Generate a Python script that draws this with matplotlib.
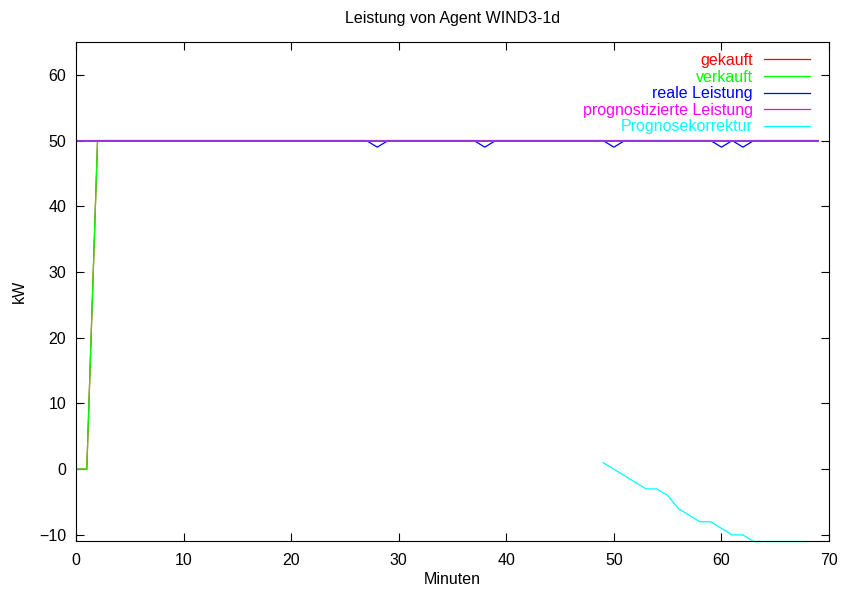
import matplotlib
matplotlib.use('Agg')
import matplotlib.pyplot as plt

plt.rcParams['font.family'] = ['Liberation Sans', 'DejaVu Sans']

# Minuten 0..69
minuten = [0, 1, 2, 3, 4, 5, 6, 7, 8, 9,
           10, 11, 12, 13, 14, 15, 16, 17, 18, 19,
           20, 21, 22, 23, 24, 25, 26, 27, 28, 29,
           30, 31, 32, 33, 34, 35, 36, 37, 38, 39,
           40, 41, 42, 43, 44, 45, 46, 47, 48, 49,
           50, 51, 52, 53, 54, 55, 56, 57, 58, 59,
           60, 61, 62, 63, 64, 65, 66, 67, 68, 69]

gekauft = [0, 0, 50, 50, 50, 50, 50, 50, 50, 50,
           50, 50, 50, 50, 50, 50, 50, 50, 50, 50,
           50, 50, 50, 50, 50, 50, 50, 50, 50, 50,
           50, 50, 50, 50, 50, 50, 50, 50, 50, 50,
           50, 50, 50, 50, 50, 50, 50, 50, 50, 50,
           50, 50, 50, 50, 50, 50, 50, 50, 50, 50,
           50, 50, 50, 50, 50, 50, 50, 50, 50, 50]

verkauft = [0, 0, 50, 50, 50, 50, 50, 50, 50, 50,
            50, 50, 50, 50, 50, 50, 50, 50, 50, 50,
            50, 50, 50, 50, 50, 50, 50, 50, 50, 50,
            50, 50, 50, 50, 50, 50, 50, 50, 50, 50,
            50, 50, 50, 50, 50, 50, 50, 50, 50, 50,
            50, 50, 50, 50, 50, 50, 50, 50, 50, 50,
            50, 50, 50, 50, 50, 50, 50, 50, 50, 50]

real = [50, 50, 50, 50, 50, 50, 50, 50, 50, 50,
        50, 50, 50, 50, 50, 50, 50, 50, 50, 50,
        50, 50, 50, 50, 50, 50, 50, 50, 49, 50,
        50, 50, 50, 50, 50, 50, 50, 50, 49, 50,
        50, 50, 50, 50, 50, 50, 50, 50, 50, 50,
        49, 50, 50, 50, 50, 50, 50, 50, 50, 50,
        49, 50, 49, 50, 50, 50, 50, 50, 50, 50]

prognose = [50, 50, 50, 50, 50, 50, 50, 50, 50, 50,
            50, 50, 50, 50, 50, 50, 50, 50, 50, 50,
            50, 50, 50, 50, 50, 50, 50, 50, 50, 50,
            50, 50, 50, 50, 50, 50, 50, 50, 50, 50,
            50, 50, 50, 50, 50, 50, 50, 50, 50, 50,
            50, 50, 50, 50, 50, 50, 50, 50, 50, 50,
            50, 50, 50, 50, 50, 50, 50, 50, 50, 50]

# Prognosekorrektur ab Minute 49
korr_x = [49, 50, 51, 52, 53, 54, 55, 56, 57, 58, 59, 60, 61, 62, 63, 64, 65, 66, 67, 68]
korr_y = [1, 0, -1, -2, -3, -3, -4, -6, -7, -8, -8, -9, -10, -10, -11, -11, -11, -11, -11, -11]

xticks = [0, 10, 20, 30, 40, 50, 60, 70]
yticks = [-10, 0, 10, 20, 30, 40, 50, 60]

fig = plt.figure(figsize=(8.42, 5.94), dpi=100)
ax = fig.add_axes([0.0903, 0.0884, 0.8943, 0.8409])

lw = 0.9
ax.plot(minuten, gekauft, color='#ff0000', lw=lw, label='gekauft')
ax.plot(minuten, verkauft, color='#00ff00', lw=lw, label='verkauft')
ax.plot(minuten, real, color='#0000ff', lw=lw, label='reale Leistung')
# magenta over blue -> looks purple like the original
ax.plot(minuten, prognose, color='#a030e0', lw=1.4, label='prognostizierte Leistung')
ax.plot(korr_x, korr_y, color='#00ffff', lw=lw, label='Prognosekorrektur', clip_on=False)

ax.set_xlim(0, 70)
ax.set_ylim(-11, 65)
ax.set_xticks(xticks)
ax.set_yticks(yticks)
ax.tick_params(direction='in', top=True, right=True, length=6, labelsize=11.5)
ax.tick_params(axis='x', pad=8)
ax.tick_params(axis='y', pad=7)
for s in ax.spines.values():
    s.set_linewidth(0.8)

ax.set_xlabel('Minuten', fontsize=11.5, labelpad=3)
ax.set_ylabel('kW', fontsize=11.5, labelpad=9)
ax.set_title('Leistung von Agent WIND3-1d', fontsize=11.5, pad=14)

leg = ax.legend(loc='upper right', bbox_to_anchor=(0.988, 0.997), frameon=False,
                markerfirst=False, fontsize=11.5, handlelength=2.9, handletextpad=0.7,
                labelspacing=0.1, borderaxespad=0.2)
leg_farben = ['#ff0000', '#00ff00', '#0000ff', '#ff00ff', '#00ffff']
for txt, line, c in zip(leg.get_texts(), leg.get_lines(), leg_farben):
    txt.set_color(c)
    line.set_color(c)
    line.set_linewidth(lw)

fig.savefig('out.png', dpi=100)
